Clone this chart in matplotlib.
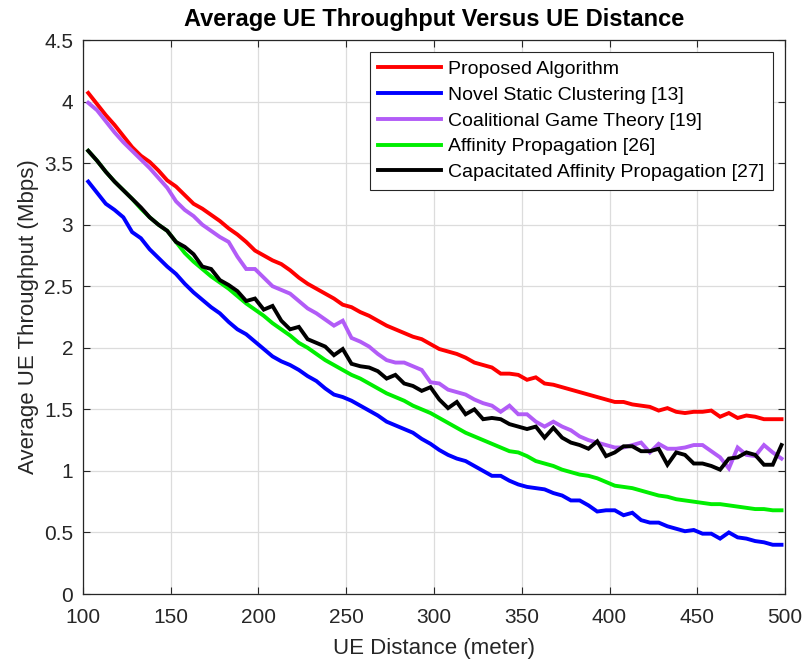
import numpy as np
import matplotlib
matplotlib.use('Agg')
import matplotlib.pyplot as plt
from matplotlib.ticker import FuncFormatter

plt.rcParams['font.family'] = ['Liberation Sans', 'DejaVu Sans']

## data (UE distance in meter, throughput in Mbps)
distance = list(range(103, 499, 5))

proposed = [4.07, 3.98, 3.89, 3.81, 3.72, 3.63, 3.56, 3.51, 3.44, 3.36,
            3.31, 3.24, 3.17, 3.13, 3.08, 3.03, 2.97, 2.92, 2.86, 2.79,
            2.75, 2.71, 2.68, 2.63, 2.57, 2.52, 2.48, 2.44, 2.40, 2.35,
            2.33, 2.29, 2.26, 2.22, 2.18, 2.15, 2.12, 2.09, 2.07, 2.03,
            1.99, 1.97, 1.95, 1.92, 1.88, 1.86, 1.84, 1.79, 1.79, 1.78,
            1.74, 1.76, 1.71, 1.70, 1.68, 1.66, 1.64, 1.62, 1.60, 1.58,
            1.56, 1.56, 1.54, 1.53, 1.52, 1.49, 1.51, 1.48, 1.47, 1.48,
            1.48, 1.49, 1.44, 1.47, 1.43, 1.45, 1.44, 1.42, 1.42, 1.42]

static_clustering = [3.35, 3.26, 3.17, 3.12, 3.06, 2.94, 2.89, 2.80, 2.73, 2.66,
                     2.60, 2.52, 2.45, 2.39, 2.33, 2.28, 2.21, 2.15, 2.11, 2.05,
                     1.99, 1.93, 1.89, 1.86, 1.82, 1.77, 1.73, 1.67, 1.62, 1.60,
                     1.57, 1.53, 1.49, 1.45, 1.40, 1.37, 1.34, 1.31, 1.26, 1.22,
                     1.17, 1.13, 1.10, 1.08, 1.04, 1.00, 0.96, 0.96, 0.92, 0.89,
                     0.87, 0.86, 0.85, 0.82, 0.80, 0.76, 0.76, 0.72, 0.67, 0.68,
                     0.68, 0.64, 0.66, 0.60, 0.58, 0.58, 0.55, 0.53, 0.51, 0.52,
                     0.49, 0.49, 0.45, 0.50, 0.46, 0.45, 0.43, 0.42, 0.40, 0.40]

coalitional = [3.99, 3.93, 3.84, 3.75, 3.67, 3.60, 3.53, 3.46, 3.38, 3.30,
               3.19, 3.12, 3.07, 3.00, 2.95, 2.90, 2.86, 2.74, 2.64, 2.64,
               2.57, 2.50, 2.47, 2.44, 2.38, 2.32, 2.28, 2.23, 2.18, 2.22,
               2.08, 2.05, 2.01, 1.95, 1.90, 1.88, 1.88, 1.85, 1.82, 1.72,
               1.71, 1.66, 1.64, 1.62, 1.58, 1.55, 1.53, 1.48, 1.53, 1.46,
               1.46, 1.40, 1.36, 1.40, 1.36, 1.33, 1.28, 1.25, 1.23, 1.21,
               1.19, 1.19, 1.21, 1.23, 1.15, 1.22, 1.18, 1.18, 1.19, 1.21,
               1.21, 1.16, 1.11, 1.02, 1.19, 1.13, 1.12, 1.21, 1.15, 1.10]

affinity = [3.60, 3.52, 3.43, 3.35, 3.28, 3.21, 3.13, 3.06, 3.00, 2.95,
            2.86, 2.77, 2.70, 2.64, 2.58, 2.53, 2.48, 2.42, 2.36, 2.31,
            2.26, 2.20, 2.15, 2.10, 2.04, 2.00, 1.95, 1.90, 1.86, 1.82,
            1.78, 1.75, 1.71, 1.67, 1.63, 1.60, 1.57, 1.53, 1.50, 1.47,
            1.43, 1.39, 1.35, 1.31, 1.28, 1.25, 1.22, 1.19, 1.16, 1.15,
            1.12, 1.08, 1.06, 1.04, 1.01, 0.99, 0.97, 0.96, 0.94, 0.91,
            0.88, 0.87, 0.86, 0.84, 0.82, 0.80, 0.79, 0.77, 0.76, 0.75,
            0.74, 0.73, 0.73, 0.72, 0.71, 0.70, 0.69, 0.69, 0.68, 0.68]

capacitated = [3.60, 3.52, 3.43, 3.35, 3.28, 3.21, 3.14, 3.06, 3.00, 2.95,
               2.86, 2.82, 2.76, 2.66, 2.64, 2.55, 2.51, 2.46, 2.38, 2.40,
               2.31, 2.34, 2.22, 2.15, 2.17, 2.07, 2.04, 2.01, 1.94, 1.99,
               1.87, 1.85, 1.84, 1.81, 1.75, 1.78, 1.71, 1.69, 1.65, 1.68,
               1.58, 1.51, 1.56, 1.46, 1.50, 1.42, 1.43, 1.42, 1.38, 1.36,
               1.34, 1.36, 1.27, 1.35, 1.27, 1.23, 1.21, 1.18, 1.24, 1.12,
               1.15, 1.20, 1.20, 1.16, 1.16, 1.18, 1.05, 1.15, 1.13, 1.06,
               1.06, 1.04, 1.01, 1.10, 1.11, 1.15, 1.13, 1.05, 1.05, 1.21]

labels = ['Proposed Algorithm', 'Novel Static Clustering [13]', 'Coalitional Game Theory [19]',
          'Affinity Propagation [26]', 'Capacitated Affinity Propagation [27]']
colors = ['#ff0000', '#0000ff', '#b25cf7', '#00ee00', '#000000']

fig = plt.figure(figsize=(8.04, 6.66), dpi=100)
ax = fig.add_axes([0.1032, 0.1081, 0.8732, 0.8318])

series = [proposed, static_clustering, coalitional, affinity, capacitated]
for y, lab, c in zip(series, labels, colors):
    ax.plot(distance, y, color=c, lw=2.8, label=lab, solid_joinstyle='miter')

ax.set_xlim(100, 500)
ax.set_ylim(0, 4.5)
ax.set_xticks(np.arange(100, 501, 50))
ax.set_yticks(np.arange(0, 4.51, 0.5))
ax.yaxis.set_major_formatter(FuncFormatter(lambda v, p: '%g' % v))

ax.grid(True, color='#dcdcdc', lw=0.9)
ax.set_axisbelow(True)
ax.tick_params(direction='in', top=True, right=True, length=5, width=0.8,
               labelsize=15, colors='#262626')
ax.tick_params(axis='x', pad=10)
ax.tick_params(axis='y', pad=7)
for s in ax.spines.values():
    s.set_color('#262626')
    s.set_linewidth(0.9)

ax.set_xlabel('UE Distance (meter)', fontsize=16, color='#262626', labelpad=8)
ax.set_ylabel('Average UE Throughput (Mbps)', fontsize=16, color='#262626')
ax.set_title('Average UE Throughput Versus UE Distance', fontsize=17, fontweight='bold', pad=10)

leg = ax.legend(loc='upper right', fontsize=14, fancybox=False, edgecolor='#262626',
                framealpha=1, handlelength=3.2, borderaxespad=0.6, labelspacing=0.42,
                handletextpad=0.4, borderpad=0.45)
leg.get_frame().set_linewidth(0.8)

fig.savefig('out.png', dpi=100)
